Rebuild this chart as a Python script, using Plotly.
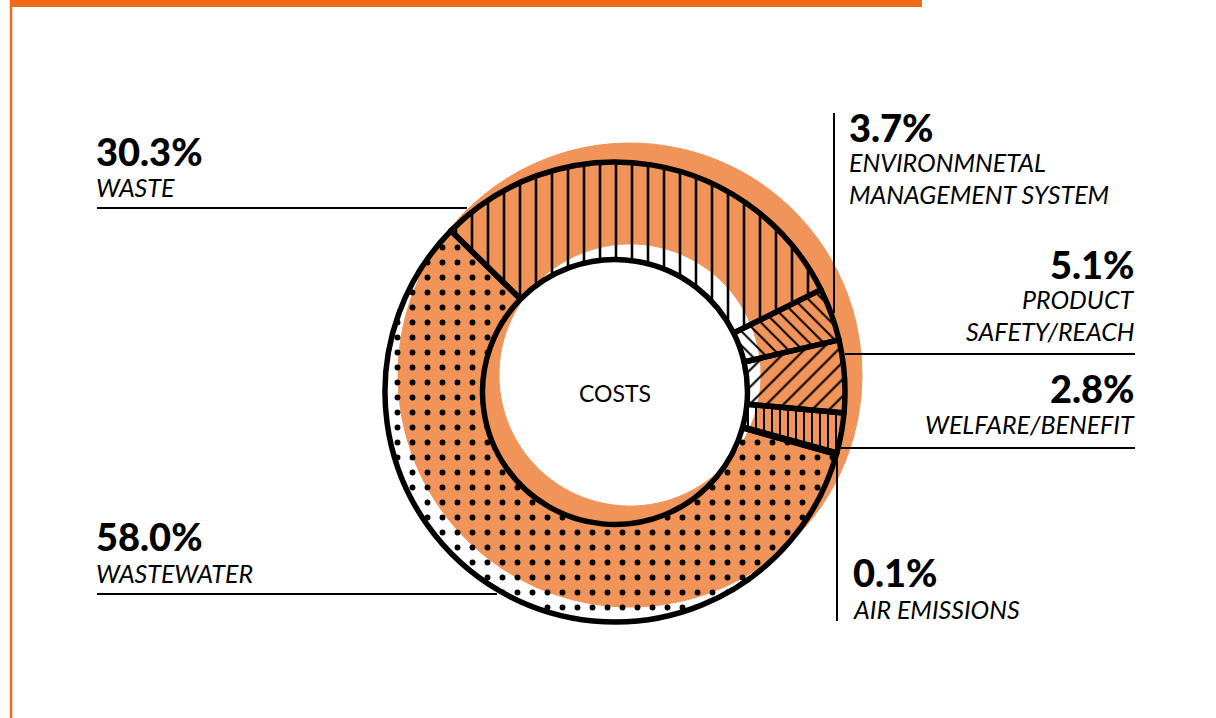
import plotly.graph_objects as go

# ---------------- data ----------------
categories = ["WASTE", "ENVIRONMNETAL<br>MANAGEMENT SYSTEM", "PRODUCT<br>SAFETY/REACH",
              "WELFARE/BENEFIT", "AIR EMISSIONS", "WASTEWATER"]
values = [30.3, 3.7, 5.1, 2.8, 0.1, 58.0]
pct_labels = ["30.3%", "3.7%", "5.1%", "2.8%", "0.1%", "58.0%"]
center_label = "COSTS"

# ---------------- styling ----------------
W, H = 1216, 718
ORANGE_RING = "#F09459"
ORANGE_BAR = "#EF6A18"
INK = "#000000"
FONT = "Lato"


def X(px):
    return px / W


def Y(py):
    return 1 - py / H


def dom_x(cx, r):
    return [X(cx - r), X(cx + r)]


def dom_y(cy, r):
    return [Y(cy + r), Y(cy - r)]


fig = go.Figure()

# offset orange "shadow" ring
fig.add_trace(go.Pie(
    values=values, labels=categories, sort=False, direction="clockwise", rotation=-45.5,
    hole=0.565, textinfo="none", hoverinfo="skip", showlegend=False,
    marker=dict(colors=[ORANGE_RING] * len(values), line=dict(color=ORANGE_RING, width=1)),
    domain=dict(x=dom_x(630, 232), y=dom_y(375, 232)),
))

# patterned, outlined donut
shapes_pat = ["|", "\\", "/", "|", "", "."]
sizes_pat = [16, 10, 12, 8, 10, 15]
solid_pat = [0.16, 0.2, 0.17, 0.25, 0.1, 0.12]
fig.add_trace(go.Pie(
    values=values, labels=categories, sort=False, direction="clockwise", rotation=-45.5,
    hole=0.576, textinfo="none", hoverinfo="label+percent", showlegend=False,
    marker=dict(
        colors=["rgba(0,0,0,0)"] * len(values),
        line=dict(color=INK, width=5.5),
        pattern=dict(shape=shapes_pat, size=sizes_pat, solidity=solid_pat,
                     fgcolor=INK, fgopacity=1, bgcolor="rgba(0,0,0,0)", fillmode="overlay"),
    ),
    domain=dict(x=dom_x(615, 230), y=dom_y(392, 230)),
))

shapes = []
annotations = []

# frame decoration
shapes.append(dict(type="rect", xref="paper", yref="paper", x0=X(12), x1=X(922), y0=Y(7), y1=Y(-2),
                   fillcolor=ORANGE_BAR, line=dict(width=0), layer="above"))
shapes.append(dict(type="line", xref="paper", yref="paper", x0=X(11), x1=X(11), y0=Y(0), y1=Y(720),
                   line=dict(color=ORANGE_BAR, width=2.5)))


def line(x0, y0, x1, y1):
    shapes.append(dict(type="line", xref="paper", yref="paper", x0=X(x0), x1=X(x1), y0=Y(y0), y1=Y(y1),
                       line=dict(color=INK, width=2), layer="above"))


def text(s, x, y, anchor="left", bold=False, size=24, italic=True):
    annotations.append(dict(
        text=s, x=X(x), y=Y(y), xref="paper", yref="paper", showarrow=False,
        xanchor=anchor, yanchor="middle", align=anchor, borderpad=0, borderwidth=0,
        font=dict(family=FONT, size=size, color=INK,
                  weight=900 if bold else 400,
                  style="italic" if italic else "normal"),
    ))


PCT = 38
LAB = 25

# WASTE (left top)
text(pct_labels[0], 96, 151, bold=True, size=PCT, italic=False)
text(categories[0], 96, 187, size=LAB)
line(97, 208, 467, 208)

# WASTEWATER (left bottom)
text(pct_labels[5], 96, 536, bold=True, size=PCT, italic=False)
text(categories[5], 96, 573, size=LAB)
line(97, 594, 497, 594)

# EMS (right top)
text(pct_labels[1], 849, 127, bold=True, size=PCT, italic=False)
text("ENVIRONMNETAL", 849, 162, size=LAB)
text("MANAGEMENT SYSTEM", 849, 194, size=LAB)
line(834, 113, 834, 313)

# PRODUCT SAFETY (right)
text(pct_labels[2], 1135, 264, anchor="right", bold=True, size=PCT, italic=False)
text("PRODUCT", 1135, 299, anchor="right", size=LAB)
text("SAFETY/REACH", 1135, 331, anchor="right", size=LAB)
line(845, 354, 1135, 354)

# WELFARE (right)
text(pct_labels[3], 1135, 388, anchor="right", bold=True, size=PCT, italic=False)
text(categories[3], 1135, 424, anchor="right", size=LAB)
line(838, 448, 1135, 448)

# AIR EMISSIONS (right bottom)
text(pct_labels[4], 853, 572, bold=True, size=PCT, italic=False)
text(categories[4], 853, 609, size=LAB)
line(837, 455, 837, 621)

# centre label
text(center_label, 615, 393, anchor="center", size=23, italic=False)

fig.update_layout(
    width=W, height=H, margin=dict(l=0, r=0, t=0, b=0),
    paper_bgcolor="white", plot_bgcolor="white",
    shapes=shapes, annotations=annotations, showlegend=False,
)

fig.write_html("out.html")
